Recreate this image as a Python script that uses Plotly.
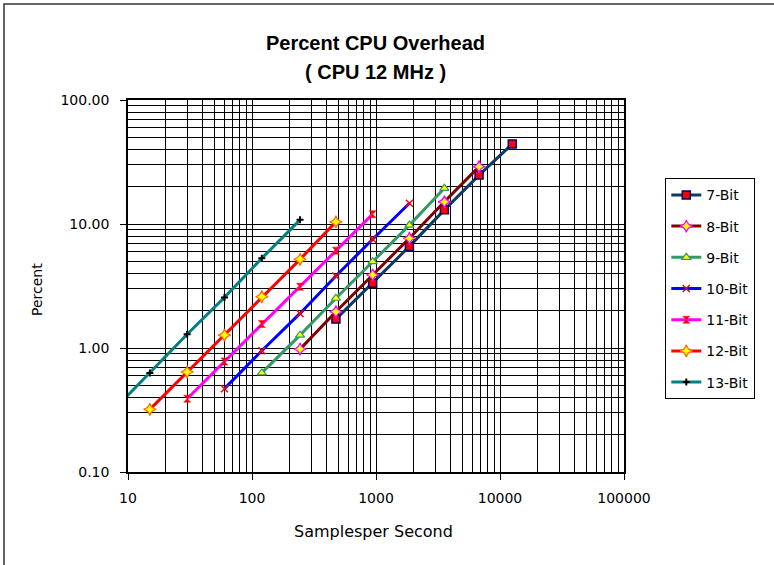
import plotly.graph_objects as go

# Samples per second (x) and percent CPU overhead (y)
bits_labels = ["7-Bit", "8-Bit", "9-Bit", "10-Bit", "11-Bit", "12-Bit", "13-Bit"]

x_7 = [475, 940, 1860, 3560, 6780, 12560]
y_7 = [1.71, 3.33, 6.6, 13.0, 24.8, 44.2]

x_8 = [244, 475, 940, 1860, 3560, 6780]
y_8 = [0.98, 1.96, 3.88, 7.67, 15.1, 29.0]

x_9 = [120, 244, 475, 940, 1860, 3560]
y_9 = [0.63, 1.27, 2.52, 4.97, 9.8, 19.4]

x_10 = [60, 120, 244, 475, 940, 1860]
y_10 = [0.47, 0.95, 1.90, 3.81, 7.53, 14.7]

x_11 = [30, 60, 120, 244, 475, 940]
y_11 = [0.39, 0.78, 1.56, 3.12, 6.09, 12.0]

x_12 = [15, 30, 60, 120, 244, 475]
y_12 = [0.32, 0.64, 1.27, 2.59, 5.19, 10.4]

x_13 = [7.5, 15, 30, 60, 120, 244]
y_13 = [0.31, 0.63, 1.29, 2.56, 5.29, 10.8]

xs = [x_7, x_8, x_9, x_10, x_11, x_12, x_13]
ys = [y_7, y_8, y_9, y_10, y_11, y_12, y_13]

x_tick_vals = [10, 100, 1000, 10000, 100000]
x_tick_text = ["10", "100", "1000", "10000", "100000"]
y_tick_vals = [0.1, 1, 10, 100]
y_tick_text = ["0.10", "1.00", "10.00", "100.00"]

line_colors = ["#0E3A66", "#800000", "#339966", "#0000FF", "#FF00FF", "#FF0000", "#008080"]
markers = [
    dict(symbol="square", size=8, color="#FF0000", line=dict(color="#000080", width=1.5)),
    dict(symbol="star-diamond", size=9, color="#FFFF00", line=dict(color="#FF00FF", width=1.2)),
    dict(symbol="triangle-up", size=8, color="#FFFF00", line=dict(color="#339966", width=1.2)),
    dict(symbol="x-thin-open", size=7, color="#FF0000", line=dict(color="#FF0000", width=1.5)),
    dict(symbol="hourglass", size=7, color="#FF0000", line=dict(color="#FF0000", width=0.5)),
    dict(symbol="star-diamond", size=9, color="#FFFF00", line=dict(color="#FF6600", width=1.2)),
    dict(symbol="cross-thin-open", size=5, color="#000000", line=dict(color="#000000", width=2)),
]

FONT = "DejaVu Sans"

fig = go.Figure()
for i, name in enumerate(bits_labels):
    fig.add_trace(go.Scatter(
        x=xs[i], y=ys[i], name=name, mode="lines+markers",
        line=dict(color=line_colors[i], width=3),
        marker=markers[i], legendgroup=name, cliponaxis=True,
    ))

L, R, T, B = 128, 150, 100, 93
W, H = 774, 565
pw, ph = W - L - R, H - T - B

def px2paper_x(p):
    return (p - L) / pw

def px2paper_y(p):
    return (H - B - p) / ph

axis_common = dict(
    type="log", showline=True, linecolor="black", linewidth=1.5, mirror=True,
    showgrid=True, gridcolor="black", gridwidth=1.4,
    ticks="outside", ticklen=6, tickcolor="black", tickwidth=1.4,
    tickfont=dict(family=FONT, size=14, color="black"),
    minor=dict(dtick="D1", showgrid=True, gridcolor="black", gridwidth=1.4, ticks=""),
    zeroline=False,
)

fig.update_xaxes(range=[1, 5], tickmode="array", tickvals=x_tick_vals, ticktext=x_tick_text,
                 ticklabelstandoff=6, **axis_common)
fig.update_yaxes(range=[-1, 2], tickmode="array", tickvals=y_tick_vals, ticktext=y_tick_text,
                 ticklabelstandoff=8, **axis_common)

fig.update_layout(
    width=W, height=H,
    margin=dict(l=L, r=R, t=T, b=B, pad=0),
    paper_bgcolor="white", plot_bgcolor="white",
    font=dict(family=FONT, size=14, color="black"),
    showlegend=True,
    legend=dict(
        x=px2paper_x(665), y=px2paper_y(178), xanchor="left", yanchor="top",
        bordercolor="black", borderwidth=1.3, bgcolor="white",
        font=dict(family=FONT, size=14, color="black"),
        tracegroupgap=10, traceorder="grouped",
    ),
    annotations=[
        dict(text="<b>Percent CPU Overhead</b>", x=px2paper_x(375), y=px2paper_y(43),
             xref="paper", yref="paper", showarrow=False, xanchor="center", yanchor="middle",
             font=dict(family="Liberation Sans", size=20, color="black")),
        dict(text="<b>( CPU 12 MHz )</b>", x=px2paper_x(375), y=px2paper_y(72),
             xref="paper", yref="paper", showarrow=False, xanchor="center", yanchor="middle",
             font=dict(family="Liberation Sans", size=20, color="black")),
        dict(text="Samplesper Second", x=px2paper_x(373), y=px2paper_y(531),
             xref="paper", yref="paper", showarrow=False, xanchor="center", yanchor="middle",
             font=dict(family=FONT, size=16, color="black")),
        dict(text="Percent", x=px2paper_x(37), y=px2paper_y(290), textangle=-90,
             xref="paper", yref="paper", showarrow=False, xanchor="center", yanchor="middle",
             font=dict(family=FONT, size=14, color="black")),
    ],
    shapes=[
        dict(type="rect", xref="paper", yref="paper",
             x0=px2paper_x(4), x1=px2paper_x(800), y0=px2paper_y(600), y1=px2paper_y(4),
             line=dict(color="#333333", width=1.5), layer="below"),
    ],
)

fig.write_html("out.html", config={"displayModeBar": False},
               post_script="document.body.style.margin='0px';")
